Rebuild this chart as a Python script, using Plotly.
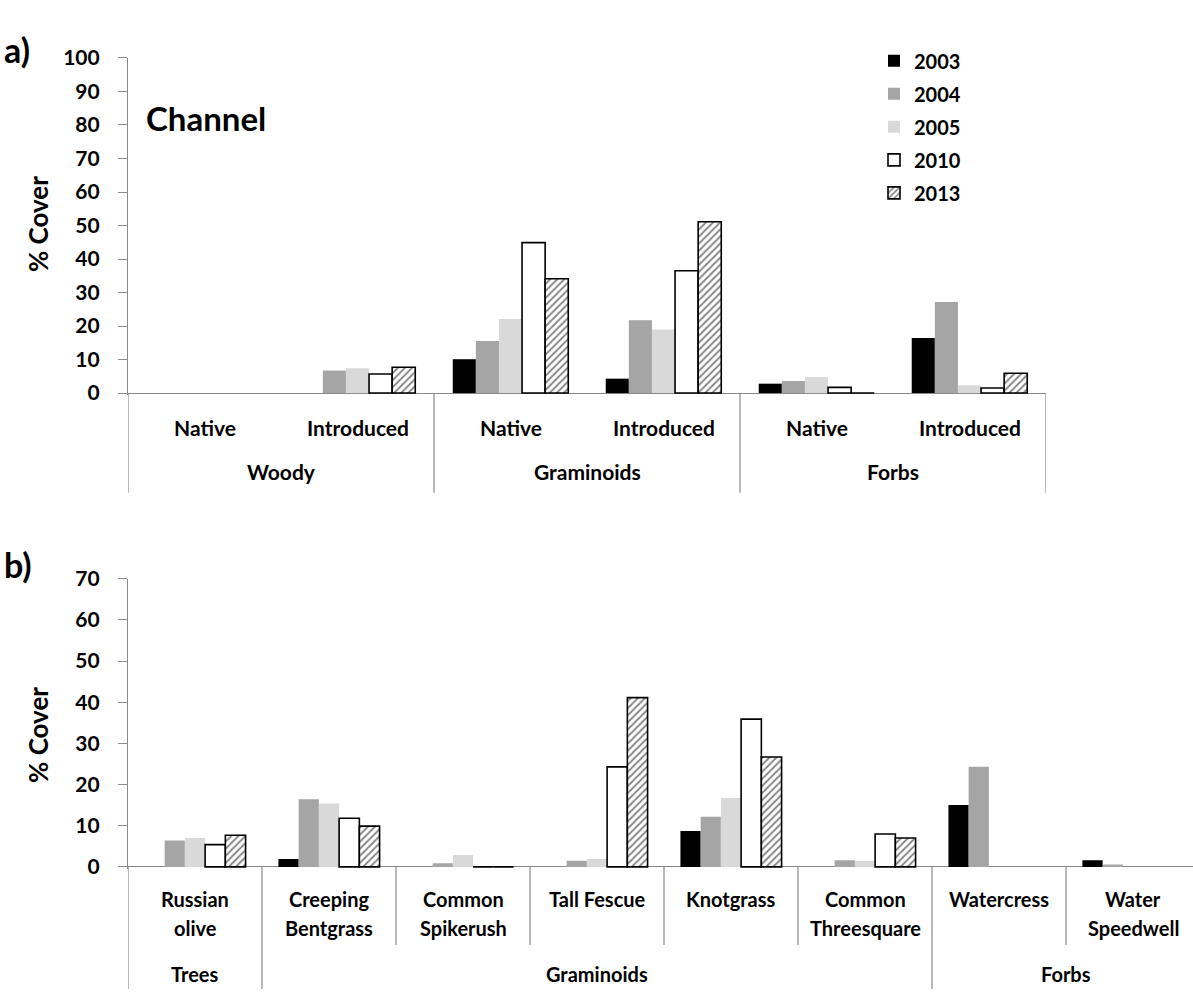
import plotly.graph_objects as go

W, H = 1193, 998
FONT = "Lato"

# ---- data -------------------------------------------------------------
years = ["2003", "2004", "2005", "2010", "2013"]

# panel a: functional groups, native vs introduced (channel plots)
origin_labels = ["Native", "Introduced", "Native", "Introduced", "Native", "Introduced"]
life_forms = ["Woody", "Graminoids", "Forbs"]
cover_a_2003 = [None, None, 10.1, 4.3, 2.8, 16.4]
cover_a_2004 = [None, 6.7, 15.5, 21.7, 3.6, 27.2]
cover_a_2005 = [None, 7.4, 22.1, 19.0, 4.8, 2.3]
cover_a_2010 = [None, 5.7, 44.9, 36.5, 1.7, 1.5]
cover_a_2013 = [None, 7.7, 34.1, 51.1, 0, 5.9]

# panel b: individual species
species_labels = ["Russian<br>olive", "Creeping<br>Bentgrass", "Common<br>Spikerush",
                  "Tall Fescue", "Knotgrass", "Common<br>Threesquare",
                  "Watercress", "Water<br>Speedwell"]
species_groups = ["Trees", "Graminoids", "Forbs"]
species_group_sizes = [1, 5, 2]
cover_b_2003 = [None, 1.9, None, None, 8.7, None, 15.0, 1.6]
cover_b_2004 = [6.4, 16.4, 0.9, 1.5, 12.2, 1.6, 24.3, 0.6]
cover_b_2005 = [7.0, 15.4, 2.9, 1.9, 16.7, 1.4, None, None]
cover_b_2010 = [5.4, 11.8, 0, 24.3, 35.9, 8.0, None, None]
cover_b_2013 = [7.7, 9.9, 0, 41.1, 26.7, 7.0, None, None]

ticks_a = list(range(0, 101, 10))
ticks_b = list(range(0, 71, 10))

# ---- styling ----------------------------------------------------------
fills = ["#000000", "#a5a5a5", "#d9d9d9", "#ffffff", "#ffffff"]
outline = [0, 0, 0, 1.6, 1.6]
hatch = [None, None, None, None, "/"]
AXIS_GREY = "#8a8a8a"


def py(p):
    """pixel row -> paper y"""
    return 1 - p / H


def px(p):
    return p / W


series_a = [cover_a_2003, cover_a_2004, cover_a_2005, cover_a_2010, cover_a_2013]
series_b = [cover_b_2003, cover_b_2004, cover_b_2005, cover_b_2010, cover_b_2013]

fig = go.Figure()


def marker_for(i):
    m = dict(color=fills[i], line=dict(color="#000000", width=outline[i]))
    if hatch[i]:
        m["pattern"] = dict(shape=hatch[i], fgcolor="#111111", bgcolor="#ffffff",
                            size=5, solidity=0.4)
    return m


xa = list(range(len(origin_labels)))
xb = list(range(len(species_labels)))

for i, yr in enumerate(years):
    fig.add_trace(go.Bar(x=xa, y=series_a[i], name=yr, legendgroup=yr,
                         marker=marker_for(i), xaxis="x", yaxis="y"))
for i, yr in enumerate(years):
    fig.add_trace(go.Bar(x=xb, y=series_b[i], name=yr, legendgroup=yr, showlegend=False,
                         marker=marker_for(i), xaxis="x2", yaxis="y2"))

# pixel geometry of the two plot areas
A_LEFT, A_RIGHT, A_TOP, A_ZERO = 128, 1046, 45, 388
B_LEFT, B_CAT, B_TOP, B_ZERO = 128, 134, 578, 873
a_unit = (A_ZERO - A_TOP) / 100.0
b_unit = (B_ZERO - B_TOP) / 70.0
A_MIN, B_MIN = -0.6, -0.6

tickfont = dict(family=FONT, size=21, color="#000000", weight="bold")
yaxis_common = dict(showline=True, linecolor=AXIS_GREY, linewidth=1.2,
                    ticks="outside", ticklen=9, tickcolor=AXIS_GREY, tickwidth=1.2,
                    tickfont=tickfont, ticklabelstandoff=14, showgrid=False,
                    zeroline=True, zerolinecolor=AXIS_GREY, zerolinewidth=1.2,
                    tickmode="array", fixedrange=True)

fig.update_layout(
    width=W, height=H,
    margin=dict(l=0, r=0, t=0, b=0),
    paper_bgcolor="#ffffff", plot_bgcolor="#ffffff",
    barmode="group", bargap=0.245, bargroupgap=0,
    showlegend=True,
    legend=dict(x=px(874), y=py(28), xanchor="left", yanchor="top",
                font=dict(family=FONT, size=20, color="#000000", weight="bold"),
                tracegroupgap=4, itemwidth=30, bgcolor="rgba(0,0,0,0)",
                traceorder="grouped"),
    xaxis=dict(domain=[px(A_LEFT), px(A_RIGHT)], range=[-0.5, len(xa) - 0.5],
               showticklabels=False, ticks="", showline=False, showgrid=False,
               zeroline=False, anchor="y"),
    yaxis=dict(domain=[py(A_ZERO + (-A_MIN) * a_unit), py(A_TOP)], range=[A_MIN, 100],
               tickvals=ticks_a, anchor="x", **yaxis_common),
    xaxis2=dict(domain=[px(B_LEFT), 1.0],
                range=[-0.5, -0.5 + (W - B_LEFT) / B_CAT],
                showticklabels=False, ticks="", showline=False, showgrid=False,
                zeroline=False, anchor="y2"),
    yaxis2=dict(domain=[py(B_ZERO + (-B_MIN) * b_unit), py(B_TOP)], range=[B_MIN, 70],
                tickvals=ticks_b, anchor="x2", **yaxis_common),
)

shapes = []
ann = []
lab_font = dict(family=FONT, size=21, color="#000000", weight="bold")

# ---- panel a category axis ----
for xv in [-0.5, 1.5, 3.5, 5.5]:
    shapes.append(dict(type="line", xref="x", yref="paper", x0=xv, x1=xv,
                       y0=py(A_ZERO), y1=py(490), line=dict(color=AXIS_GREY, width=1.2)))
for i, lab in enumerate(origin_labels):
    ann.append(dict(x=i, y=py(423), xref="x", yref="paper", text=lab, showarrow=False,
                    font=lab_font, xanchor="center", yanchor="middle"))
for g, lab in enumerate(life_forms):
    ann.append(dict(x=2 * g + 0.5, y=py(468), xref="x", yref="paper", text=lab,
                    showarrow=False, font=lab_font, xanchor="center", yanchor="middle"))

# ---- panel b category axis ----
edges = [-0.5]
for n in species_group_sizes:
    edges.append(edges[-1] + n)
group_edges = set(edges)
for k in range(len(species_labels) + 1):
    xv = k - 0.5
    bottom = 998 if xv in group_edges else 953
    shapes.append(dict(type="line", xref="x2", yref="paper", x0=xv, x1=xv,
                       y0=py(B_ZERO), y1=py(bottom), line=dict(color=AXIS_GREY, width=1.2)))
for i, lab in enumerate(species_labels):
    for j, part in enumerate(lab.split("<br>")):
        ann.append(dict(x=i, y=py(906 + 30 * j), xref="x2", yref="paper", text=part,
                        showarrow=False, font=dict(lab_font, size=20),
                        xanchor="center", yanchor="middle"))
for g, lab in enumerate(species_groups):
    centre = (edges[g] + edges[g + 1]) / 2
    ann.append(dict(x=centre, y=py(983), xref="x2", yref="paper", text=lab,
                    showarrow=False, font=dict(lab_font, size=20),
                    xanchor="center", yanchor="middle"))

# ---- titles and panel letters ----
title_font = dict(family=FONT, size=26, color="#000000", weight="bold")
ann.append(dict(x=px(38), y=py(215), xref="paper", yref="paper", text="% Cover",
                textangle=-90, showarrow=False, font=title_font,
                xanchor="center", yanchor="middle"))
ann.append(dict(x=px(38), y=py(738), xref="paper", yref="paper", text="% Cover",
                textangle=-90, showarrow=False, font=title_font,
                xanchor="center", yanchor="middle"))
ann.append(dict(x=px(144), y=py(106), xref="paper", yref="paper", text="Channel",
                showarrow=False, font=dict(family=FONT, size=33, color="#000000", weight="bold"),
                xanchor="left", yanchor="middle"))
letter_font = dict(family=FONT, size=34, color="#000000", weight="bold")
ann.append(dict(x=px(2), y=py(36), xref="paper", yref="paper", text="a)",
                showarrow=False, font=letter_font, xanchor="left", yanchor="middle"))
ann.append(dict(x=px(2), y=py(563), xref="paper", yref="paper", text="b)",
                showarrow=False, font=letter_font, xanchor="left", yanchor="middle"))

fig.update_layout(shapes=shapes, annotations=ann)

fig.write_html("out.html")
